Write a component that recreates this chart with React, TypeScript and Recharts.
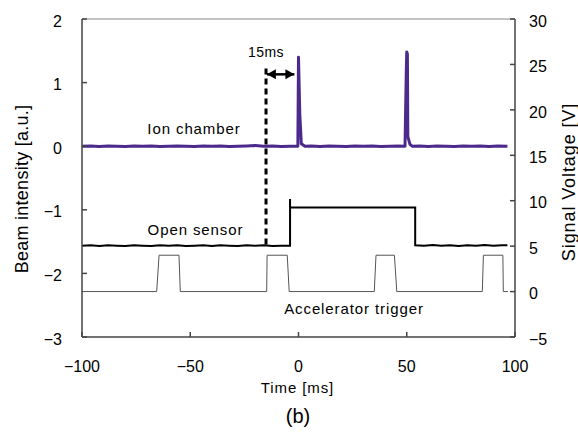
import { ComposedChart, Line, XAxis, YAxis, ReferenceLine } from "recharts";

// Time axis [ms]
const timeTicks = [-100, -50, 0, 50, 100];
const beamTicks = [-3, -2, -1, 0, 1, 2];
const voltTicks = [-5, 0, 5, 10, 15, 20, 25, 30];

// Ion chamber beam intensity [a.u.] (left axis)
const ionTime = [
  -100, -96, -92, -88, -84, -80, -76, -72, -68, -64, -60, -56, -52, -48, -44, -40, -36, -32,
  -28, -24, -20, -16, -12, -8, -4, -0.3, 0, 0.6, 1.3, 3, 6, 10, 14, 18, 22, 26, 30, 34, 38,
  42, 46, 49.2, 49.8, 50, 50.3, 50.5, 51.5, 52.5, 56, 60, 64, 68, 72, 76, 80, 84, 88, 92, 96.5,
];
const ionSignal = [
  0, 0.005, -0.005, 0.004, 0, -0.005, 0.005, 0, 0.004, -0.005, 0, 0.005, 0, -0.004, 0.005, 0,
  0.005, -0.005, 0, 0.004, 0.01, 0, 0.005, -0.004, 0, 0, 1.4, 0.5, 0.04, 0, 0.005, -0.005,
  0.004, 0, -0.005, 0.005, 0, 0.004, -0.005, 0, 0.005, 0, 1.2, 1.48, 1.45, 0.15, 0.03, 0,
  0.005, -0.005, 0.004, 0, -0.005, 0.005, 0, 0.004, -0.005, 0.005, 0,
];

// Open sensor signal voltage [V] (right axis)
const sensorTime = [
  -100, -96, -92, -88, -84, -80, -76, -72, -68, -64, -60, -56, -52, -48, -44, -40, -36, -32,
  -28, -24, -20, -16, -12, -8, -3.9, -3.9, -3.9, 53.9, 53.9, 58, 62, 66, 70, 74, 78, 82, 86,
  90, 94, 96.5,
];
const sensorVolt = [
  5.05, 5.1, 5.02, 5.1, 5.05, 5.02, 5.1, 5.05, 5.02, 5.1, 5.05, 5.1, 5.02, 5.05, 5.1, 5.02,
  5.1, 5.05, 5.02, 5.1, 5.05, 5.1, 5.02, 5.05, 5.05, 10.2, 9.25, 9.25, 5.1, 5.05, 5.12, 5.05,
  5.1, 5.02, 5.1, 5.05, 5.12, 5.05, 5.1, 5.1,
];

// Accelerator trigger signal voltage [V] (right axis)
const triggerTime = [
  -100, -65.5, -64.4, -55.2, -54.6, -14.7, -14.5, -5.2, -4.3, 35.0, 35.8, 44.3, 45.4, 84.9,
  85.4, 94.4, 94.6, 96.8,
];
const triggerVolt = [0, 0, 4.0, 4.0, 0, 0, 4.0, 4.0, 0, 0, 4.0, 4.0, 0, 0, 4.0, 4.0, 0, 0];

// 15 ms marker (left axis)
const markerTime = [-15, -15];
const markerValue = [1.22, -1.59];
const arrowTime = [-14.6, -1.9];
const arrowValue = [1.13, 1.13];

const toPoints = (t: number[], v: number[]) => t.map((x, i) => ({ t: x, v: v[i] }));

const minus = (v: number) => String(v).replace("-", "\u2212");

const ArrowHead = (props: any) => {
  const { cx, cy, index } = props;
  const dir = index === 0 ? 1 : -1;
  const pts = `${cx},${cy} ${cx + dir * 9},${cy - 5} ${cx + dir * 9},${cy + 5}`;
  return <polygon key={`ah-${index}`} points={pts} fill="#000" />;
};

const font = "'Liberation Sans', Arial, sans-serif";

const Tag = ({ x, y, size = 15, spacing = 0.9, rotate = 0, children }: any) => (
  <text
    x={x}
    y={y}
    textAnchor="middle"
    dominantBaseline="central"
    transform={rotate ? `rotate(${rotate} ${x} ${y})` : undefined}
    fontSize={size}
    letterSpacing={spacing}
    fontFamily={font}
    fill="#000"
  >
    {children}
  </text>
);

export default function App() {
  const axisStroke = "#444";
  const tickStyle = { fontSize: 16, fill: "#000", fontFamily: font };
  return (
    <div style={{ position: "relative", width: 578, height: 432, overflow: "hidden" }}>
      <style>{"html, body { margin: 0; overflow: hidden; }"}</style>
      <ComposedChart
        width={578}
        height={432}
        margin={{ top: 19, right: 13, bottom: 65, left: 32 }}
        style={{ fontFamily: font }}
      >
        <XAxis
          type="number"
          dataKey="t"
          domain={[-100, 100]}
          ticks={timeTicks}
          allowDataOverflow
          height={30}
          tickSize={-5}
          tickMargin={29}
          tick={tickStyle}
          tickFormatter={minus}
          stroke={axisStroke}
          strokeWidth={1.5}
        />
        <YAxis
          yAxisId="left"
          domain={[-3, 2]}
          ticks={beamTicks}
          allowDataOverflow
          width={50}
          tickSize={-5}
          tickMargin={25}
          tick={{ ...tickStyle, dy: 2 }}
          tickFormatter={minus}
          stroke={axisStroke}
          strokeWidth={1.5}
        />
        <YAxis
          yAxisId="right"
          orientation="right"
          domain={[-5, 30]}
          ticks={voltTicks}
          allowDataOverflow
          width={50}
          tickSize={-5}
          tickMargin={19}
          tick={{ ...tickStyle, dy: 2 }}
          tickFormatter={minus}
          stroke={axisStroke}
          strokeWidth={1.5}
        />
        <ReferenceLine yAxisId="left" y={2} stroke="#888" strokeWidth={1} />
        <Line
          yAxisId="right"
          data={toPoints(triggerTime, triggerVolt)}
          dataKey="v"
          type="linear"
          stroke="#555"
          strokeWidth={1}
          dot={false}
          isAnimationActive={false}
        />
        <Line
          yAxisId="right"
          data={toPoints(sensorTime, sensorVolt)}
          dataKey="v"
          type="linear"
          stroke="#000"
          strokeWidth={2}
          dot={false}
          isAnimationActive={false}
        />
        <Line
          yAxisId="left"
          data={toPoints(markerTime, markerValue)}
          dataKey="v"
          type="linear"
          stroke="#000"
          strokeWidth={3}
          strokeDasharray="6 4"
          dot={false}
          isAnimationActive={false}
        />
        <Line
          yAxisId="left"
          data={toPoints(arrowTime, arrowValue)}
          dataKey="v"
          type="linear"
          stroke="#000"
          strokeWidth={2.5}
          dot={ArrowHead}
          isAnimationActive={false}
        />
        <Line
          yAxisId="left"
          data={toPoints(ionTime, ionSignal)}
          dataKey="v"
          type="linear"
          stroke="#4b2a8c"
          strokeWidth={3}
          strokeLinejoin="round"
          dot={false}
          isAnimationActive={false}
        />
      </ComposedChart>
      <svg
        width={578}
        height={432}
        style={{ position: "absolute", left: 0, top: 0, pointerEvents: "none" }}
      >
        <Tag x={194} y={128}>Ion chamber</Tag>
        <Tag x={195.5} y={229}>Open sensor</Tag>
        <Tag x={354} y={308}>Accelerator trigger</Tag>
        <Tag x={266} y={51.5} size={14} spacing={0.5}>15ms</Tag>
        <Tag x={297.5} y={387}>Time [ms]</Tag>
        <Tag x={298} y={416} size={20} spacing={0}>(b)</Tag>
        <Tag x={22} y={189} rotate={-90} size={18} spacing={0.25}>Beam intensity [a.u.]</Tag>
        <Tag x={569} y={182} rotate={-90} size={18} spacing={0.9}>Signal Voltage [V]</Tag>
      </svg>
    </div>
  );
}
